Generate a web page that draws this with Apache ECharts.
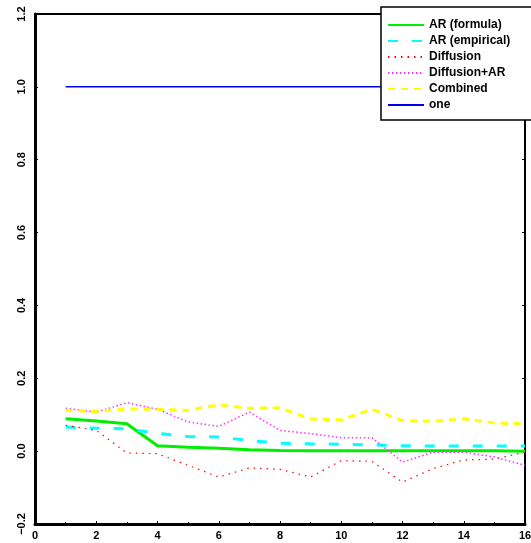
<!DOCTYPE html>
<html><head><meta charset="utf-8">
<script src="https://cdn.jsdelivr.net/npm/echarts@6/dist/echarts.min.js"></script>
<style>html,body{margin:0;padding:0;background:#fff}#c{width:531px;height:543px}</style>
</head><body><div id="c"></div>
<script>
var xs = [1,2,3,4,5,6,7,8,9,10,11,12,13,14,15,16];
var arFormula   = [0.089,0.083,0.075,0.015,0.011,0.008,0.004,0.002,0.001,0.001,0.001,0.001,0.001,0.001,0.001,0.000];
var arEmpirical = [0.066,0.063,0.061,0.049,0.040,0.039,0.029,0.022,0.020,0.019,0.017,0.015,0.014,0.014,0.014,0.014];
var diffusion   = [0.071,0.057,-0.005,-0.007,-0.039,-0.071,-0.046,-0.050,-0.071,-0.026,-0.028,-0.085,-0.048,-0.024,-0.022,-0.003];
var diffAR      = [0.118,0.107,0.133,0.115,0.080,0.068,0.107,0.057,0.048,0.037,0.037,-0.030,-0.003,-0.003,-0.016,-0.039];
var combined    = [0.112,0.109,0.116,0.115,0.112,0.127,0.118,0.119,0.088,0.086,0.115,0.084,0.082,0.089,0.077,0.075];
var one         = [1,1,1,1,1,1,1,1,1,1,1,1,1,1,1,1];
var names = ['AR (formula)','AR (empirical)','Diffusion','Diffusion+AR','Combined','one'];
var yTicks = [-0.2,0.0,0.2,0.4,0.6,0.8,1.0,1.2];

function pairs(v){ return xs.map(function(x,i){return [x,v[i]];}); }
var font = {fontFamily:'Liberation Sans', fontWeight:'bold', fontSize:11, color:'#000'};
var lfont = {fontFamily:'Liberation Sans', fontWeight:'bold', fontSize:12, color:'#000'};
function mk(name, data, color, width, type){
  return {name:name, type:'line', data:pairs(data), symbol:'none', showSymbol:false,
    lineStyle:{color:color, width:width, type:type}, itemStyle:{color:color}, animation:false, z:3};
}
var chart = echarts.init(document.getElementById('c'), null, {renderer:'canvas'});
chart.setOption({
  animation:false,
  backgroundColor:'#fff',
  grid:{left:35, right:6, top:14, bottom:19, outerBoundsMode:'none', containLabel:false},
  xAxis:[{type:'value', min:0, max:16, interval:2, position:'bottom',
    axisLine:{show:true, onZero:false, lineStyle:{color:'#000', width:3}},
    axisTick:{show:true, inside:true, length:3, lineStyle:{color:'#000', width:1}},
    minorTick:{show:true, splitNumber:2, length:2, lineStyle:{color:'#000'}},
    splitLine:{show:false},
    axisLabel:Object.assign({margin:6, showMaxLabel:true, hideOverlap:false}, font)},
   {type:'value', min:0, max:16, interval:2, position:'top',
    axisLine:{show:true, onZero:false, lineStyle:{color:'#000', width:2}},
    axisTick:{show:false}, splitLine:{show:false}, axisLabel:{show:false}}],
  yAxis:[{type:'value', min:-0.2, max:1.2, interval:0.2, position:'left',
    axisLine:{show:true, onZero:false, lineStyle:{color:'#000', width:3}},
    axisTick:{show:true, inside:true, length:3, lineStyle:{color:'#000', width:1}},
    splitLine:{show:false},
    axisLabel:Object.assign({margin:8, rotate:90,
      formatter:function(v){ var s=(Math.round(v*10)/10).toFixed(1); return s.replace('-','\u2212'); }}, font)},
   {type:'value', min:-0.2, max:1.2, interval:0.2, position:'right',
    axisLine:{show:true, onZero:false, lineStyle:{color:'#000', width:2}},
    axisTick:{show:true, inside:true, length:3, lineStyle:{color:'#000', width:1}},
    splitLine:{show:false}, axisLabel:{show:false}}],
  legend:{orient:'vertical', left:381, top:7, data:names,
    backgroundColor:'#fff', borderColor:'#000', borderWidth:1.5,
    padding:[12,30,9,6], itemWidth:36, itemHeight:12, itemGap:4,
    textStyle:lfont, itemStyle:{opacity:0}, z:10},
  series:[
    mk(names[0], arFormula, '#00ee00', 3, 'solid'),
    mk(names[1], arEmpirical, '#00ffff', 3, [10,14]),
    mk(names[2], diffusion, '#ff0000', 1.2, [1.5,5]),
    mk(names[3], diffAR, '#ff33ff', 1.5, [1.5,2.5]),
    mk(names[4], combined, '#ffff00', 3, [7,6]),
    mk(names[5], one, '#0000ee', 1.5, 'solid')
  ]
});
</script></body></html>
